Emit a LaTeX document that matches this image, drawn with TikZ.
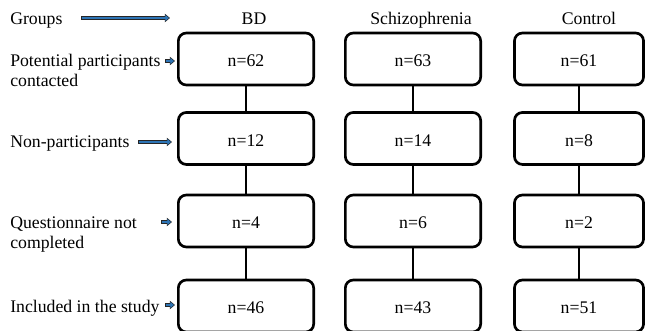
\documentclass[tikz,border=0pt]{standalone}
\usepackage{fontspec}
\setmainfont{Liberation Serif}
\usetikzlibrary{arrows.meta}

\definecolor{arrowblue}{RGB}{46,117,182}
\definecolor{arrowedge}{RGB}{38,38,38}

\begin{document}
\begin{tikzpicture}[x=0.75pt,y=-0.75pt,font=\fontsize{13.3pt}{15pt}\selectfont,
  count/.style={rectangle,rounded corners=6pt,line width=2pt,draw=black,minimum width=101.5pt,minimum height=39pt,inner sep=0pt,text height=12pt,text depth=0pt},
  head/.style={anchor=base,inner sep=0pt},
  stage/.style={anchor=base west,align=left,inner sep=0pt},
  link/.style={line width=2pt},
  blockarrow/.style={draw=arrowedge,line width=3.5pt,-{Triangle[length=3.9pt,width=6.2pt]},
    postaction={draw=arrowblue,line width=1.9pt,shorten <=0.7pt,shorten >=0.8pt,-{Triangle[length=2.6pt,width=4.2pt]}}}]
  \clip (0,0) rectangle (646,331);
  % group headers
  \node (groups) [stage] at (10,25) {Groups};
  \node (hbd) [head] at (254,25) {BD};
  \node (hsz) [head] at (421,25) {Schizophrenia};
  \node (hct) [head] at (589,25) {Control};
  % stages
  \node (contacted) [stage,anchor=west] at (10,70.5) {Potential participants\\contacted};
  \node (nonpart) [stage] at (10,147.5) {Non-participants};
  \node (notdone) [stage,anchor=west] at (10,235) {Questionnaire not\\completed};
  \node (included) [stage] at (10,312.5) {Included in the study};
  % BD column
  \node (bd1) [count] at (246,59) {n=62};
  \node (bd2) [count,below of=bd1,node distance=59.6pt] {n=12};
  \node (bd3) [count,below of=bd2,node distance=61.9pt] {n=4};
  \node (bd4) [count,below of=bd3,node distance=63.75pt] {n=46};
  % Schizophrenia column
  \node (sz1) [count,right of=bd1,node distance=125.25pt] {n=63};
  \node (sz2) [count,right of=bd2,node distance=125.25pt] {n=14};
  \node (sz3) [count,right of=bd3,node distance=125.25pt] {n=6};
  \node (sz4) [count,right of=bd4,node distance=125.25pt] {n=43};
  % Control column
  \node (ct1) [count,minimum width=96.8pt,right of=sz1,node distance=124.5pt] {n=61};
  \node (ct2) [count,minimum width=96.8pt,right of=sz2,node distance=124.5pt] {n=8};
  \node (ct3) [count,minimum width=96.8pt,right of=sz3,node distance=124.5pt] {n=2};
  \node (ct4) [count,minimum width=96.8pt,right of=sz4,node distance=124.5pt] {n=51};
  \draw[link] (bd1) -- (bd2) -- (bd3) -- (bd4);
  \draw[link] (sz1) -- (sz2) -- (sz3) -- (sz4);
  \draw[link] (ct1) -- (ct2) -- (ct3) -- (ct4);
  % pointer arrows
  \coordinate (gs) at (81,18);
  \coordinate (ge) at (170,18);
  \coordinate (cs) at (165,61);
  \coordinate (ce) at (175,61);
  \coordinate (ns) at (138,142);
  \coordinate (ne) at (172,142);
  \coordinate (qs) at (161,222);
  \coordinate (qe) at (172,222);
  \coordinate (is) at (165,305);
  \coordinate (ie) at (175,305);
  \draw[blockarrow] (gs) -- (ge);
  \draw[blockarrow] (cs) -- (ce);
  \draw[blockarrow] (ns) -- (ne);
  \draw[blockarrow] (qs) -- (qe);
  \draw[blockarrow] (is) -- (ie);
\end{tikzpicture}
\end{document}
